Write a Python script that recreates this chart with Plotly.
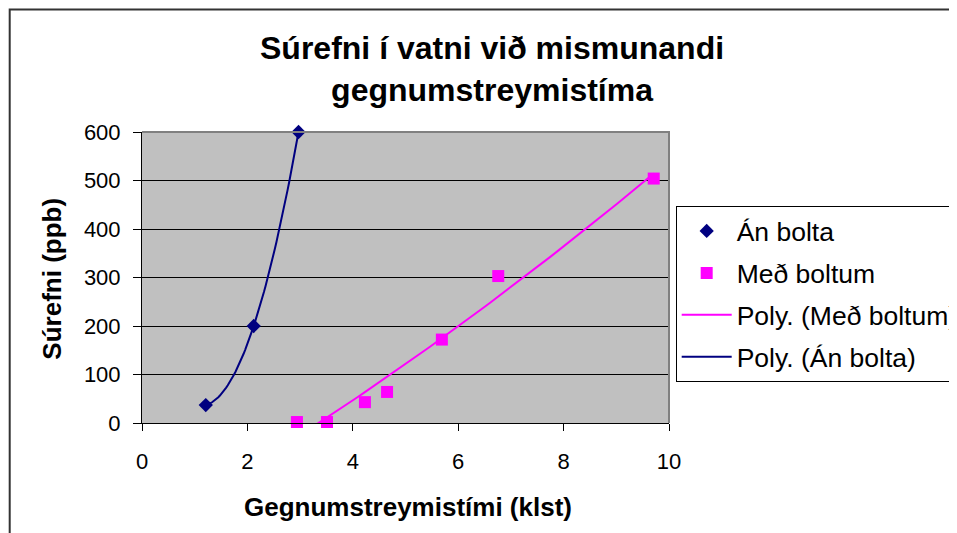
import numpy as np
import plotly.graph_objects as go

# ---- data ----
an_bolta_x = [1.21, 2.12, 2.97]
an_bolta_y = [37, 200, 600]

med_boltum_x = [2.94, 3.51, 4.23, 4.65, 5.69, 6.76, 9.71]
med_boltum_y = [2, 2, 43, 64, 172, 303, 504]

x_ticks = [0, 2, 4, 6, 8, 10]
y_ticks = [0, 100, 200, 300, 400, 500, 600]

title_text = "Súrefni í vatni við mismunandi<br>gegnumstreymistíma"
x_title = "Gegnumstreymistími (klst)"
y_title = "Súrefni (ppb)"
names = ["Án bolta", "Með boltum", "Poly. (Með boltum)", "Poly. (Án bolta)"]

NAVY = "#000080"
MAGENTA = "#FF00FF"

# polynomial (order 2) trendlines fitted to the data, as in the original
def trend(xs, ys):
    c = np.polyfit(xs, ys, 2)
    xx = np.linspace(min(xs), max(xs), 60)
    return xx, np.polyval(c, xx)

tm_x, tm_y = trend(med_boltum_x, med_boltum_y)
ta_x, ta_y = trend(an_bolta_x, an_bolta_y)

OFF = 8  # page body margin
W, H = 949, 525
# plot area in screen pixels: x 141.5..669.3, y 131.5..423.5
ML = 141.5 - OFF
MT = 131.5 - OFF
MR = W - (669.3 - OFF)
MB = H - (423.5 - OFF)
PW = W - ML - MR
PH = H - MT - MB

def px_x(p):  # screen px -> paper
    return (p - OFF - ML) / PW

def px_y(p):
    return (H - MB - (p - OFF)) / PH

FONT = "Liberation Sans, Arial, sans-serif"

fig = go.Figure()
fig.add_trace(go.Scatter(x=an_bolta_x, y=an_bolta_y, mode="markers", name=names[0],
                         marker=dict(symbol="diamond", size=11, color=NAVY),
                         cliponaxis=False, legendgroup="a"))
fig.add_trace(go.Scatter(x=med_boltum_x, y=med_boltum_y, mode="markers", name=names[1],
                         marker=dict(symbol="square", size=12, color=MAGENTA),
                         cliponaxis=False, legendgroup="b"))
fig.add_trace(go.Scatter(x=tm_x, y=tm_y, mode="lines", name=names[2],
                         line=dict(color=MAGENTA, width=2), legendgroup="c"))
fig.add_trace(go.Scatter(x=ta_x, y=ta_y, mode="lines", name=names[3],
                         line=dict(color=NAVY, width=2), legendgroup="d"))

fig.update_layout(
    width=W, height=H,
    margin=dict(l=ML, r=MR, t=MT, b=MB, autoexpand=False),
    paper_bgcolor="white",
    plot_bgcolor="#C0C0C0",
    font=dict(family=FONT, color="black", size=22),
    showlegend=True,
    legend=dict(
        x=px_x(676), y=px_y(206), xanchor="left", yanchor="top",
        bgcolor="white", bordercolor="black", borderwidth=1,
        font=dict(family=FONT, size=26.5, color="black"),
        traceorder="grouped", tracegroupgap=4.5, itemwidth=50,
    ),
    xaxis=dict(
        range=[0, 10], tickvals=x_ticks, ticktext=[str(v) for v in x_ticks],
        showgrid=False, zeroline=False, showline=True, linecolor="black", linewidth=1,
        ticks="outside", ticklen=7, tickcolor="black", tickwidth=1,
        tickfont=dict(size=22), ticklabelstandoff=12,
    ),
    yaxis=dict(
        range=[0, 600], tickvals=y_ticks, ticktext=[str(v) for v in y_ticks],
        showgrid=True, gridcolor="black", gridwidth=1, zeroline=False,
        showline=True, linecolor="black", linewidth=1,
        ticks="outside", ticklen=8, tickcolor="black", tickwidth=1,
        tickfont=dict(size=22), ticklabelstandoff=8,
    ),
    annotations=[
        dict(text="<b>" + title_text + "</b>", xref="paper", yref="paper",
             x=px_x(492), y=px_y(68.5), xanchor="center", yanchor="middle",
             showarrow=False, font=dict(family=FONT, size=32, color="black")),
        dict(text="<b>" + x_title + "</b>", xref="paper", yref="paper",
             x=px_x(408), y=px_y(508), xanchor="center", yanchor="middle",
             showarrow=False, font=dict(family=FONT, size=26, color="black")),
        dict(text="<b>" + y_title + "</b>", xref="paper", yref="paper",
             x=px_x(51), y=px_y(279), xanchor="center", yanchor="middle",
             textangle=-90, showarrow=False, font=dict(family=FONT, size=26, color="black")),
    ],
    shapes=[
        # gray plot-area frame (top and right edges)
        dict(type="path", xref="paper", yref="paper",
             path="M 0,1 L 1,1 L 1,0", line=dict(color="#808080", width=2), layer="above"),
        # outer chart border (left and top edges visible)
        dict(type="rect", xref="paper", yref="paper",
             x0=px_x(OFF + 1), y0=px_y(OFF + H + 30), x1=px_x(OFF + W + 30), y1=px_y(OFF + 0.5),
             line=dict(color="#333333", width=2), fillcolor="rgba(0,0,0,0)", layer="above"),
    ],
)

fig.write_html("out.html")
